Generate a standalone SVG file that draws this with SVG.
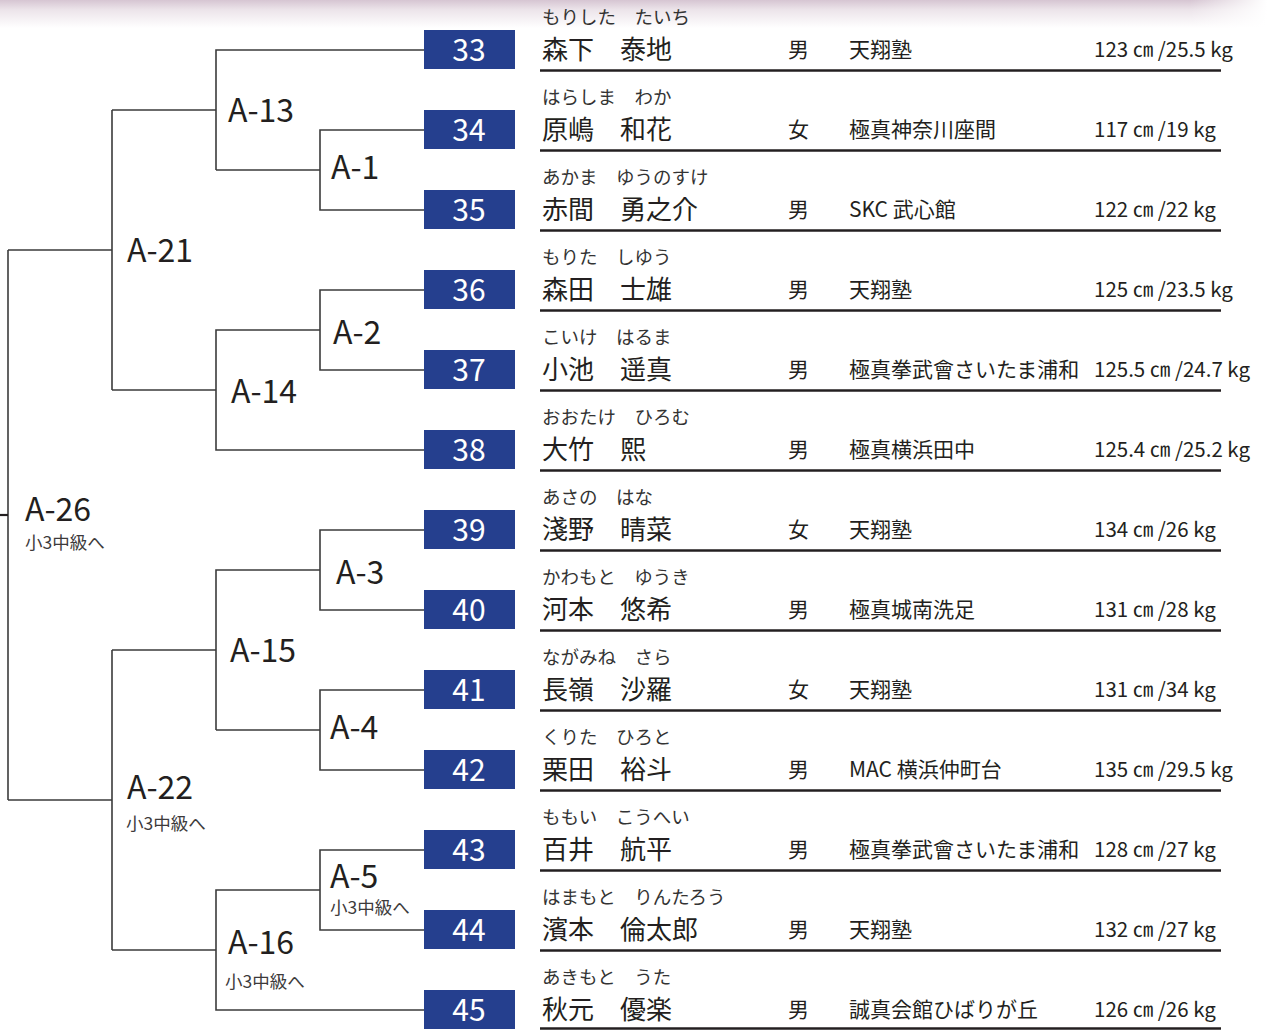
<svg xmlns="http://www.w3.org/2000/svg" width="1267" height="1030" viewBox="0 0 1267 1030">
<defs>
<linearGradient id="topg" x1="0" y1="0" x2="0" y2="1">
<stop offset="0" stop-color="#d6c5d2"/>
<stop offset="0.35" stop-color="#ece4ea"/>
<stop offset="1" stop-color="#ffffff"/>
</linearGradient>
<linearGradient id="rightfade" x1="0" y1="0" x2="1" y2="0">
<stop offset="0" stop-color="#ffffff" stop-opacity="0"/>
<stop offset="1" stop-color="#ffffff" stop-opacity="1"/>
</linearGradient>
<style>
text{font-family:"Noto Sans CJK JP","Noto Sans",sans-serif;}
.lbl{font-size:32px;fill:#231f20;}
.sub{font-size:17.5px;fill:#3d3a3b;}
.num{font-size:30px;fill:#ffffff;text-anchor:middle;}
.box{fill:#253f8e;}
.con{fill:none;stroke:#3b3b3b;stroke-width:1.6;}
.kana{font-size:18.5px;fill:#333333;}
.name{font-size:26px;fill:#231f20;}
.info{font-size:21px;fill:#231f20;}
.wt{font-size:20.5px;fill:#231f20;}
.rule{stroke:#231f20;stroke-width:2.6;}
</style>
</defs>
<rect x="0" y="0" width="1267" height="1030" fill="#ffffff"/>
<rect x="0" y="0" width="1267" height="28" fill="url(#topg)"/>
<rect x="1190" y="0" width="77" height="28" fill="url(#rightfade)"/>

<g id="connectors">
<path class="con" d="M424,50 H216 V170 M216,110 H112 M424,130 H320 V210 H424 M320,170 H216"/>
<path class="con" d="M112,110 V390 M112,250 H8"/>
<path class="con" d="M424,290 H320 V370 H424 M320,330 H216 V450 H424 M216,390 H112"/>
<path class="con" d="M8,250 V800"/>
<path d="M0,515 H8" stroke="#231f20" stroke-width="2.2"/>
<path class="con" d="M424,530 H320 V610 H424 M320,570 H216 V730 M216,650 H112 M424,690 H320 V770 H424 M320,730 H216"/>
<path class="con" d="M112,650 V950 M112,800 H8"/>
<path class="con" d="M424,850 H320 V930 H424 M320,890 H216 V1010 H424 M216,950 H112"/>
</g>

<g id="match-A-13"><text class="lbl" x="228" y="122">A-13</text></g>
<g id="match-A-1"><text class="lbl" x="331" y="179">A-1</text></g>
<g id="match-A-21"><text class="lbl" x="127" y="262">A-21</text></g>
<g id="match-A-2"><text class="lbl" x="333" y="344">A-2</text></g>
<g id="match-A-14"><text class="lbl" x="231" y="403">A-14</text></g>
<g id="match-A-26"><text class="lbl" x="25" y="521">A-26</text><text class="sub" x="25" y="549">小3中級へ</text></g>
<g id="match-A-3"><text class="lbl" x="336" y="584">A-3</text></g>
<g id="match-A-15"><text class="lbl" x="230" y="662">A-15</text></g>
<g id="match-A-4"><text class="lbl" x="330" y="739">A-4</text></g>
<g id="match-A-22"><text class="lbl" x="127" y="799">A-22</text><text class="sub" x="126" y="830">小3中級へ</text></g>
<g id="match-A-5"><text class="lbl" x="330" y="888">A-5</text><text class="sub" x="330" y="914">小3中級へ</text></g>
<g id="match-A-16"><text class="lbl" x="228" y="954">A-16</text><text class="sub" x="225" y="988">小3中級へ</text></g>

<g id="p33"><rect class="box" x="424" y="30" width="91" height="39"/><text class="num" x="469" y="61">33</text>
<text class="kana" x="542" y="24">もりした　たいち</text><text class="name" x="542" y="59">森下　泰地</text>
<text class="info" x="788" y="57">男</text><text class="info" x="849" y="57">天翔塾</text><text class="wt" x="1094" y="57">123 ㎝ /25.5 kg</text>
<line class="rule" x1="540" y1="70.5" x2="1221" y2="70.5"/></g>

<g id="p34"><rect class="box" x="424" y="110" width="91" height="39"/><text class="num" x="469" y="141">34</text>
<text class="kana" x="542" y="104">はらしま　わか</text><text class="name" x="542" y="139">原嶋　和花</text>
<text class="info" x="788" y="137">女</text><text class="info" x="849" y="137">極真神奈川座間</text><text class="wt" x="1094" y="137">117 ㎝ /19 kg</text>
<line class="rule" x1="540" y1="150.5" x2="1221" y2="150.5"/></g>

<g id="p35"><rect class="box" x="424" y="190" width="91" height="39"/><text class="num" x="469" y="221">35</text>
<text class="kana" x="542" y="184">あかま　ゆうのすけ</text><text class="name" x="542" y="219">赤間　勇之介</text>
<text class="info" x="788" y="217">男</text><text class="info" x="849" y="217">SKC 武心館</text><text class="wt" x="1094" y="217">122 ㎝ /22 kg</text>
<line class="rule" x1="540" y1="230.5" x2="1221" y2="230.5"/></g>

<g id="p36"><rect class="box" x="424" y="270" width="91" height="39"/><text class="num" x="469" y="301">36</text>
<text class="kana" x="542" y="264">もりた　しゆう</text><text class="name" x="542" y="299">森田　士雄</text>
<text class="info" x="788" y="297">男</text><text class="info" x="849" y="297">天翔塾</text><text class="wt" x="1094" y="297">125 ㎝ /23.5 kg</text>
<line class="rule" x1="540" y1="310.5" x2="1221" y2="310.5"/></g>

<g id="p37"><rect class="box" x="424" y="350" width="91" height="39"/><text class="num" x="469" y="381">37</text>
<text class="kana" x="542" y="344">こいけ　はるま</text><text class="name" x="542" y="379">小池　遥真</text>
<text class="info" x="788" y="377">男</text><text class="info" x="849" y="377">極真拳武會さいたま浦和</text><text class="wt" x="1094" y="377">125.5 ㎝ /24.7 kg</text>
<line class="rule" x1="540" y1="390.5" x2="1221" y2="390.5"/></g>

<g id="p38"><rect class="box" x="424" y="430" width="91" height="39"/><text class="num" x="469" y="461">38</text>
<text class="kana" x="542" y="424">おおたけ　ひろむ</text><text class="name" x="542" y="459">大竹　熙</text>
<text class="info" x="788" y="457">男</text><text class="info" x="849" y="457">極真横浜田中</text><text class="wt" x="1094" y="457">125.4 ㎝ /25.2 kg</text>
<line class="rule" x1="540" y1="470.5" x2="1221" y2="470.5"/></g>

<g id="p39"><rect class="box" x="424" y="510" width="91" height="39"/><text class="num" x="469" y="541">39</text>
<text class="kana" x="542" y="504">あさの　はな</text><text class="name" x="542" y="539">淺野　晴菜</text>
<text class="info" x="788" y="537">女</text><text class="info" x="849" y="537">天翔塾</text><text class="wt" x="1094" y="537">134 ㎝ /26 kg</text>
<line class="rule" x1="540" y1="550.5" x2="1221" y2="550.5"/></g>

<g id="p40"><rect class="box" x="424" y="590" width="91" height="39"/><text class="num" x="469" y="621">40</text>
<text class="kana" x="542" y="584">かわもと　ゆうき</text><text class="name" x="542" y="619">河本　悠希</text>
<text class="info" x="788" y="617">男</text><text class="info" x="849" y="617">極真城南洗足</text><text class="wt" x="1094" y="617">131 ㎝ /28 kg</text>
<line class="rule" x1="540" y1="630.5" x2="1221" y2="630.5"/></g>

<g id="p41"><rect class="box" x="424" y="670" width="91" height="39"/><text class="num" x="469" y="701">41</text>
<text class="kana" x="542" y="664">ながみね　さら</text><text class="name" x="542" y="699">長嶺　沙羅</text>
<text class="info" x="788" y="697">女</text><text class="info" x="849" y="697">天翔塾</text><text class="wt" x="1094" y="697">131 ㎝ /34 kg</text>
<line class="rule" x1="540" y1="710.5" x2="1221" y2="710.5"/></g>

<g id="p42"><rect class="box" x="424" y="750" width="91" height="39"/><text class="num" x="469" y="781">42</text>
<text class="kana" x="542" y="744">くりた　ひろと</text><text class="name" x="542" y="779">栗田　裕斗</text>
<text class="info" x="788" y="777">男</text><text class="info" x="849" y="777">MAC 横浜仲町台</text><text class="wt" x="1094" y="777">135 ㎝ /29.5 kg</text>
<line class="rule" x1="540" y1="790.5" x2="1221" y2="790.5"/></g>

<g id="p43"><rect class="box" x="424" y="830" width="91" height="39"/><text class="num" x="469" y="861">43</text>
<text class="kana" x="542" y="824">ももい　こうへい</text><text class="name" x="542" y="859">百井　航平</text>
<text class="info" x="788" y="857">男</text><text class="info" x="849" y="857">極真拳武會さいたま浦和</text><text class="wt" x="1094" y="857">128 ㎝ /27 kg</text>
<line class="rule" x1="540" y1="870.5" x2="1221" y2="870.5"/></g>

<g id="p44"><rect class="box" x="424" y="910" width="91" height="39"/><text class="num" x="469" y="941">44</text>
<text class="kana" x="542" y="904">はまもと　りんたろう</text><text class="name" x="542" y="939">濱本　倫太郎</text>
<text class="info" x="788" y="937">男</text><text class="info" x="849" y="937">天翔塾</text><text class="wt" x="1094" y="937">132 ㎝ /27 kg</text>
<line class="rule" x1="540" y1="950.5" x2="1221" y2="950.5"/></g>

<g id="p45"><rect class="box" x="424" y="990" width="91" height="39"/><text class="num" x="469" y="1021">45</text>
<text class="kana" x="542" y="984">あきもと　うた</text><text class="name" x="542" y="1019">秋元　優楽</text>
<text class="info" x="788" y="1017">男</text><text class="info" x="849" y="1017">誠真会館ひばりが丘</text><text class="wt" x="1094" y="1017">126 ㎝ /26 kg</text>
<line class="rule" x1="540" y1="1028.5" x2="1221" y2="1028.5"/></g>
</svg>
